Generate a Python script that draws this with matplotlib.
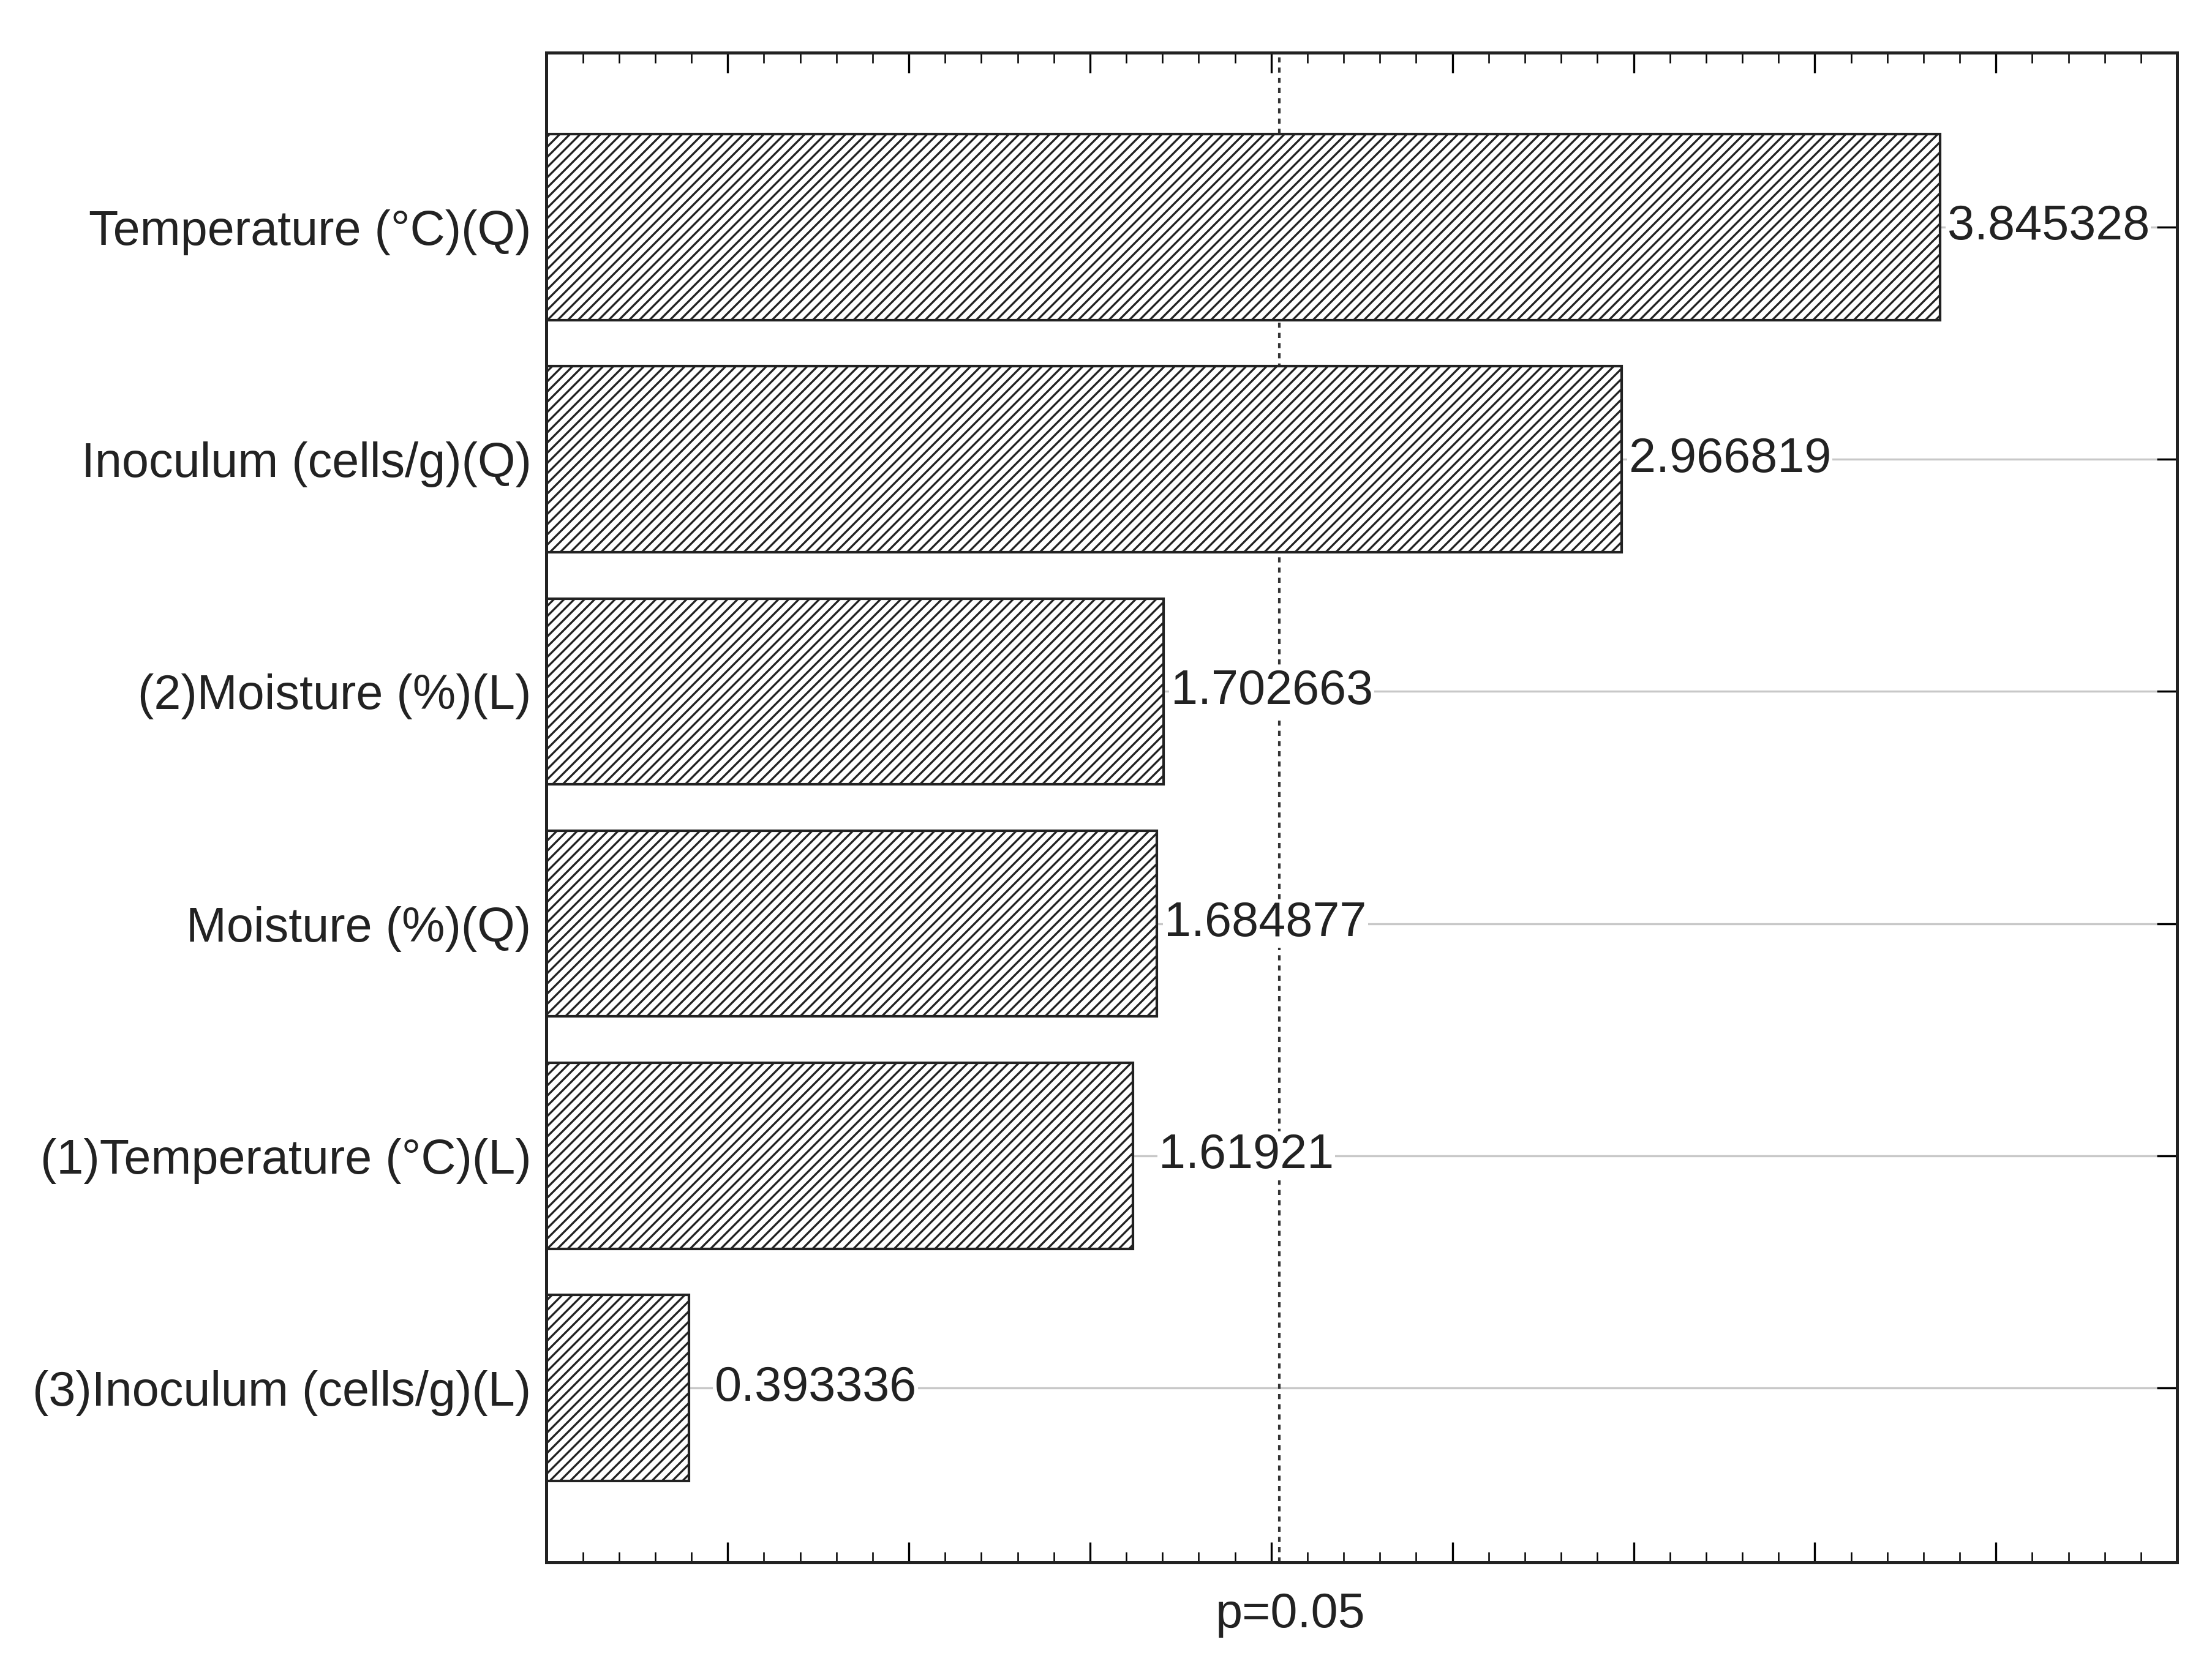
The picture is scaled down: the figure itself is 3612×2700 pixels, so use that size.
import matplotlib.pyplot as plt
from matplotlib.ticker import MultipleLocator
import matplotlib as mpl

mpl.rcParams['hatch.linewidth'] = 0.8
plt.rcParams['font.family'] = ['Liberation Sans', 'DejaVu Sans']

effects = ["Temperature (°C)(Q)", "Inoculum (cells/g)(Q)", "(2)Moisture (%)(L)",
           "Moisture (%)(Q)", "(1)Temperature (°C)(L)", "(3)Inoculum (cells/g)(L)"]
values = [3.845328, 2.966819, 1.702663, 1.684877, 1.61921, 0.393336]
labels = ["3.845328", "2.966819", "1.702663", "1.684877", "1.61921", "0.393336"]
p_crit = 2.023

fig = plt.figure(figsize=(12.043, 9.0), dpi=300)
ax = fig.add_axes([0.247, 0.055, 0.737, 0.913])

ypos = list(range(len(effects)))
for y in ypos:
    ax.axhline(y, color='#c8c8c8', lw=0.8, zorder=0)
ax.barh(ypos, values, height=0.8, color='white', edgecolor='#222222',
        hatch='//////', lw=1.0, zorder=2)
for y, v, t in zip(ypos, values, labels):
    off = 0.02 if v > 1.65 else 0.07
    ax.text(v + off, y, t, va='center', ha='left', fontsize=19, color='#222222',
            zorder=3, bbox=dict(facecolor='white', edgecolor='none', pad=0.5))
ax.axvline(p_crit, color='#333333', ls=(0, (2, 2)), lw=1.0, zorder=1)

ax.set_xlim(0, 4.5)
ax.set_ylim(5.75, -0.75)
ax.set_yticks(ypos)
ax.set_yticklabels(effects, fontsize=19, color='#222222')
ax.xaxis.set_major_locator(MultipleLocator(0.5))
ax.xaxis.set_minor_locator(MultipleLocator(0.1))
ax.set_xticklabels([])
ax.tick_params(axis='x', which='both', direction='in', top=True, bottom=True)
ax.tick_params(axis='x', which='major', length=8)
ax.tick_params(axis='x', which='minor', length=4)
ax.tick_params(axis='y', direction='in', left=True, right=True, length=8, pad=6)
ax.text(p_crit + 0.03, -0.035, "p=0.05", transform=ax.get_xaxis_transform(),
        ha='center', va='center', fontsize=19, color='#222222')
for s in ax.spines.values():
    s.set_linewidth(1.2)
    s.set_color('#222222')

fig.savefig("out.png")
